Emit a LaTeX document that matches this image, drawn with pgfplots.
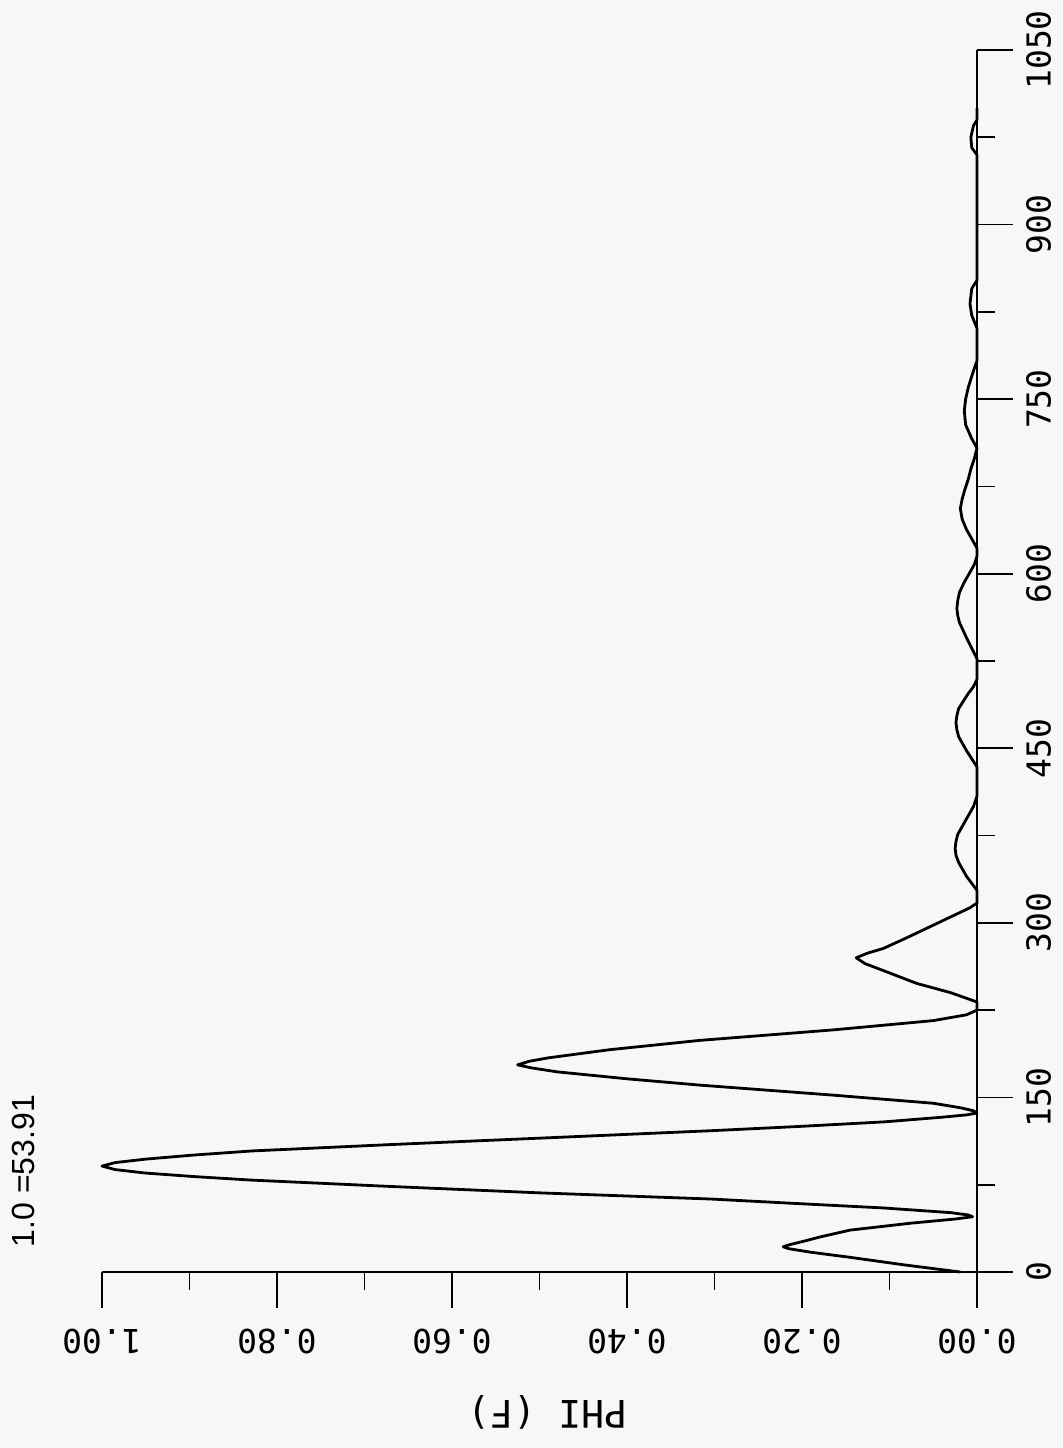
\documentclass[border=0pt]{standalone}
\usepackage{pgfplots}
\pgfplotsset{compat=1.18}
\usepackage{pgfplotstable}
\usepackage{fontspec}
\setmainfont{Liberation Sans}
\newfontfamily\plotterfont{DejaVu Sans Mono}

% spectral weight PHI(F) against frequency F
\pgfplotstableread{
f      phi
0      0.019
6      0.082
12.6   0.145
17     0.190
20     0.215
21.7   0.2215
23.5   0.214
27     0.195
30     0.180
36     0.145
42     0.075
45.5   0.025
47.5   0.005
49     0.010
51     0.030
55     0.106
59     0.210
62.7   0.304
68     0.500
73.5   0.670
79     0.830
82     0.895
85     0.950
88     0.985
91     1.000
94     0.985
97     0.950
100.5  0.895
104    0.829
109.5  0.670
115    0.500
121.4  0.304
125    0.205
129    0.106
133    0.040
135    0.012
136.6  0.000
138.5  0.004
141    0.018
145    0.050
152    0.165
160.6  0.317
166    0.400
172    0.480
175.5  0.510
178    0.525
181    0.512
184    0.490
191    0.420
199    0.317
208    0.165
216    0.050
221    0.012
225    0.000
232    0.000
240    0.030
248    0.069
259    0.107
265    0.128
270    0.138
274    0.125
278    0.107
288    0.078
298    0.050
308    0.022
313    0.008
317    0.000
328    0.000
334    0.006
340    0.012
352    0.021
358    0.024
364    0.025
370    0.024
376    0.022
384    0.016
392    0.010
400    0.004
409    0.000
434    0.000
441    0.006
448    0.012
460    0.021
466    0.023
472    0.024
478    0.023
484    0.021
490    0.016
497    0.010
503    0.004
509    0.000
527    0.000
536    0.006
545    0.012
558    0.020
564    0.022
570    0.023
577    0.022
584    0.020
592    0.015
600    0.009
608    0.003
615    0.000
622    0.000
630    0.006
638    0.012
647    0.017
656    0.019
664    0.017
672    0.014
681    0.010
690    0.007
699    0.003
708    0.000
716    0.006
728    0.013
740    0.0145
750    0.013
760    0.010
772    0.005
783    0.000
811    0.000
822    0.006
832    0.008
845    0.006
852    0.000
960    0.000
966    0.006
975    0.007
985    0.004
990    0.000
1000   0.000
}\phidata

\begin{document}
\begin{tikzpicture}
\path[use as bounding box, fill=black!3] (-51pt,-88pt) rectangle (480pt,636pt);
\begin{axis}[
  scale only axis, width=437.5pt, height=611pt,
  anchor=south west, at={(0pt,0pt)},
  x dir=reverse,
  xmin=0, xmax=1, ymin=0, ymax=1050,
  clip=false,
  axis x line=bottom, axis y line=right,
  axis line style={-, line width=0.9pt, black},
  every tick/.style={line width=0.9pt, black},
  tick align=outside,
  major tick length=18pt, minor tick length=9pt,
  xtick={0,0.2,0.4,0.6,0.8,1.0},
  xticklabels={0.00,0.20,0.40,0.60,0.80,1.00},
  minor x tick num=1,
  ytick={0,150,300,450,600,750,900,1050},
  yticklabels={0,150,300,450,600,750,900,1050},
  minor y tick num=1,
  xticklabel style={yshift=-7pt, rotate=180, anchor=south,
    font=\plotterfont\fontsize{16.5}{18}\selectfont},
  yticklabel style={xshift=3pt, rotate=90, anchor=north,
    font=\plotterfont\fontsize{16.5}{18}\selectfont},
  xlabel={PHI (F)},
  every axis x label/.style={at={(axis description cs:0.5,0)},
    yshift=-70pt, xshift=4pt, rotate=180, anchor=center,
    font=\plotterfont\fontsize{19}{21}\selectfont},
]
\addplot[black, line width=1.4pt, mark=none, sharp plot, line join=round]
  table[x=phi, y=f] {\phidata};
\end{axis}
\node[rotate=90, font=\fontsize{16}{18}\selectfont] at (-39.5pt,50.5pt) {1.0 =53.91};
\end{tikzpicture}
\end{document}
